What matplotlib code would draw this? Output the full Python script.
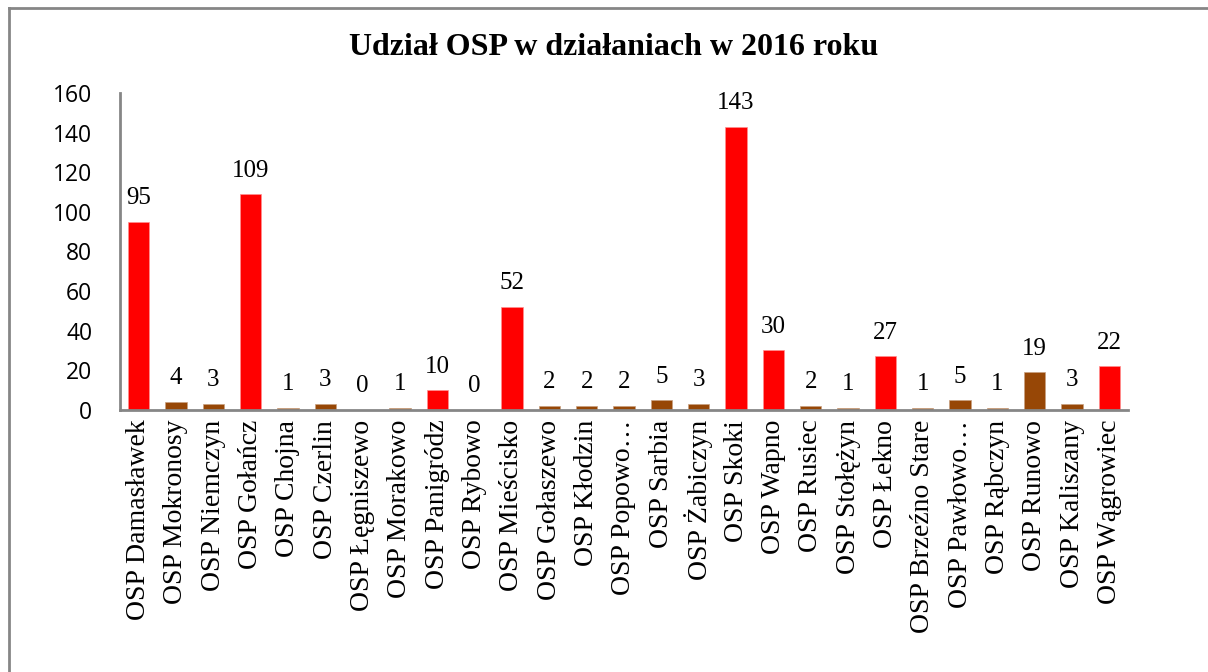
import matplotlib.pyplot as plt
from matplotlib.lines import Line2D

# dane
stations = ["OSP Damasławek", "OSP Mokronosy", "OSP Niemczyn", "OSP Gołańcz",
            "OSP Chojna", "OSP Czerlin", "OSP Łęgniszewo", "OSP Morakowo",
            "OSP Panigródz", "OSP Rybowo", "OSP Mieścisko", "OSP Gołaszewo",
            "OSP Kłodzin", "OSP Popowo…", "OSP Sarbia", "OSP Żabiczyn",
            "OSP Skoki", "OSP Wapno", "OSP Rusiec", "OSP Stołężyn",
            "OSP Łekno", "OSP Brzeźno Stare", "OSP Pawłowo…", "OSP Rąbczyn",
            "OSP Runowo", "OSP Kaliszany", "OSP Wągrowiec"]
actions = [95, 4, 3, 109, 1, 3, 0, 1, 10, 0, 52, 2, 2, 2, 5, 3,
           143, 30, 2, 1, 27, 1, 5, 1, 19, 3, 22]
ksrg = [1, 0, 0, 1, 0, 0, 0, 0, 1, 0, 1, 0, 0, 0, 0, 0,
        1, 1, 0, 0, 1, 0, 0, 0, 0, 0, 1]

RED = "#FF0000"
BROWN = "#974706"
GREY = "#868686"

fig = plt.figure(figsize=(12.08, 6.72), dpi=100)
ax = fig.add_axes([0.0993, 0.39, 0.8345, 0.4716])

colors = [RED if k else BROWN for k in ksrg]
edges = ["#FF9090" if k else "#C8A080" for k in ksrg]
x = range(len(stations))
rects = ax.bar(x, actions, width=0.57, color=colors, edgecolor=edges, linewidth=0.5)

for rect, v in zip(rects, actions):
    ax.annotate(str(v), (rect.get_x() + rect.get_width() / 2, rect.get_height()),
                xytext=(0, 9), textcoords="offset points", ha="center", va="bottom",
                fontsize=18, family="Liberation Serif")

ax.set_xlim(-0.5, len(stations) - 0.5)
ax.set_ylim(0, 160)
ax.set_yticks(range(0, 161, 20))
ax.set_xticks(list(x))
ax.set_xticklabels(stations, rotation=90, fontsize=20, family="Liberation Serif")
for lbl in ax.get_yticklabels():
    lbl.set_fontsize(16.5)
    lbl.set_family("Open Sans")
ax.tick_params(length=0)
ax.tick_params(axis="x", pad=7)
ax.tick_params(axis="y", pad=20)

for s in ["top", "right"]:
    ax.spines[s].set_visible(False)
for s in ["left", "bottom"]:
    ax.spines[s].set_color(GREY)
    ax.spines[s].set_linewidth(2)

fig.text(0.508, 0.929, "Udział OSP w działaniach w 2016 roku", ha="center", va="center",
         fontsize=23, fontweight="bold", family="Liberation Serif")

# ramka wykresu
fig.add_artist(Line2D([0.0075, 1.0], [0.988, 0.988], color=GREY, linewidth=2,
                      transform=fig.transFigure))
fig.add_artist(Line2D([0.0075, 0.0075], [0.0, 0.988], color=GREY, linewidth=2,
                      transform=fig.transFigure))

fig.savefig("out.png", dpi=100)
